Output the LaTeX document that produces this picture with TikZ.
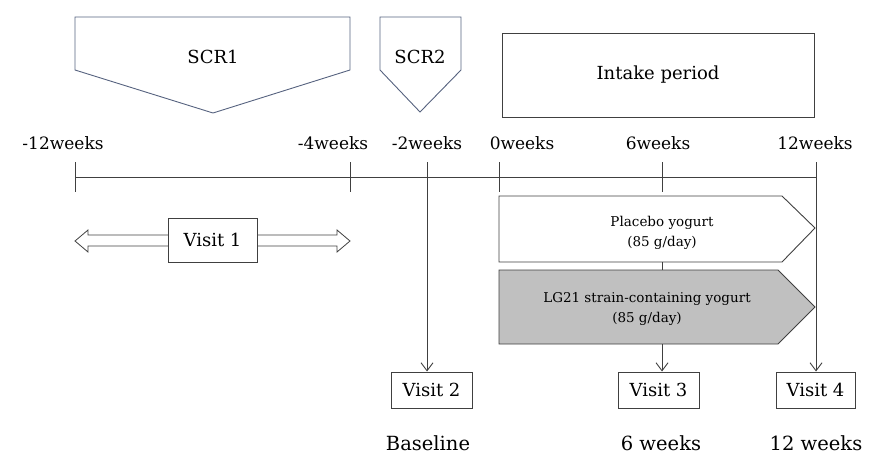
\documentclass[tikz,border=0pt]{standalone}
\usepackage{fontspec}
\setmainfont{DejaVu Serif}
\usetikzlibrary{positioning,arrows.meta}
\definecolor{scrblue}{HTML}{56627F}
\definecolor{linegray}{HTML}{404040}
\definecolor{yogurtgray}{HTML}{C0C0C0}
\tikzset{%
  week text/.style={
    font=\fontsize{17}{20}\selectfont,
    inner sep=0pt
  },
  period text/.style={
    font=\fontsize{18}{21}\selectfont,
    inner sep=0pt
  },
  scr line/.style={
    draw=scrblue,
    line width=0.9pt
  },
  period box/.style={
    draw=linegray,
    rectangle,
    line width=1pt,
    minimum width=312pt,
    minimum height=84pt,
    font=\fontsize{18}{21}\selectfont
  },
  visit box/.style={
    draw=linegray,
    fill=white,
    rectangle,
    line width=1pt,
    minimum width=81pt,
    minimum height=36pt,
    inner sep=0pt,
    font=\fontsize{18}{21}\selectfont
  },
  yogurt text/.style={
    align=center,
    font=\fontsize{13.5}{20}\selectfont
  },
  end text/.style={
    font=\fontsize{19.5}{23}\selectfont,
    inner sep=0pt
  },
}

\begin{document}
\begin{tikzpicture}[x=1pt, y=-1pt, > = {Straight Barb[length=8pt,width=12pt]}, line width=0.9pt, draw=linegray]
\useasboundingbox (0,0) rectangle (869,455);
% screening periods
\draw[scr line] (75,17) -- (350,17) -- (350,70) -- (213,113) -- (75,70) -- cycle;
\node[period text] (scr_1) at (213,57) {SCR1};
\draw[scr line] (380,17) -- (461,17) -- (461,70) -- (420,112) -- (380,70) -- cycle;
\node[period text] (scr_2) at (420,57) {SCR2};
\node[period box] (intake) at (658,75) {Intake period};
% time axis
\draw[linegray] (75,177) -- (816,177);
\foreach \x/\lx/\txt [count=\i] in {75/63/-12weeks, 350/333/-4weeks, 427/427/-2weeks, 499/522/0weeks, 662/658/6weeks, 816/815/12weeks}
    {\coordinate (tick_\i) at (\x,162);
     \coordinate (tock_\i) at (\x,192);
     \draw[linegray] (tick_\i) -- (tock_\i);
     \node[week text] (week_\i) at (\lx,143) {\txt};}
% visit 1
\draw[linegray, line width=0.8pt] (75,241) -- (88,230) -- (88,235) -- (337,235) -- (337,230) -- (350,241)
    -- (337,252) -- (337,246) -- (88,246) -- (88,252) -- cycle;
\node[visit box, minimum width=89pt, minimum height=44pt] (visit_1) at (212.5,240) {Visit 1};
% yogurt arms
\draw[linegray, fill=white] (499,196) -- (782,196) -- (815,228) -- (782,262) -- (499,262) -- cycle;
\node[yogurt text] (placebo) at (662,233) {Placebo yogurt\\(85 g/day)};
\draw[linegray, fill=yogurtgray] (499,270) -- (778,270) -- (815,307) -- (778,344) -- (499,344) -- cycle;
\node[yogurt text] (lg21) at (647,309) {LG21 strain-containing yogurt\\(85 g/day)};
\coordinate (arm_gap_top) at (662,262);
\coordinate (arm_gap_bot) at (662,270);
\coordinate (arm_end) at (662,344);
\draw[linegray] (arm_gap_top) -- (arm_gap_bot);
% later visits
\node[visit box] (visit_2) at (431.5,390) {Visit 2};
\node[visit box] (visit_3) at (658.5,390) {Visit 3};
\node[visit box, minimum width=79pt] (visit_4) at (815.5,390) {Visit 4};
\draw[linegray, ->] (tick_3) -- (tick_3 |- visit_2.north);
\draw[linegray, ->] (arm_end) -- (arm_end |- visit_3.north);
\draw[linegray, ->] (tick_6) -- (tick_6 |- visit_4.north);
\node[end text] (baseline) at (428,443) {Baseline};
\node[end text] (six_weeks) at (661,443) {6 weeks};
\node[end text] (twelve_weeks) at (816,443) {12 weeks};
\end{tikzpicture}
\end{document}
